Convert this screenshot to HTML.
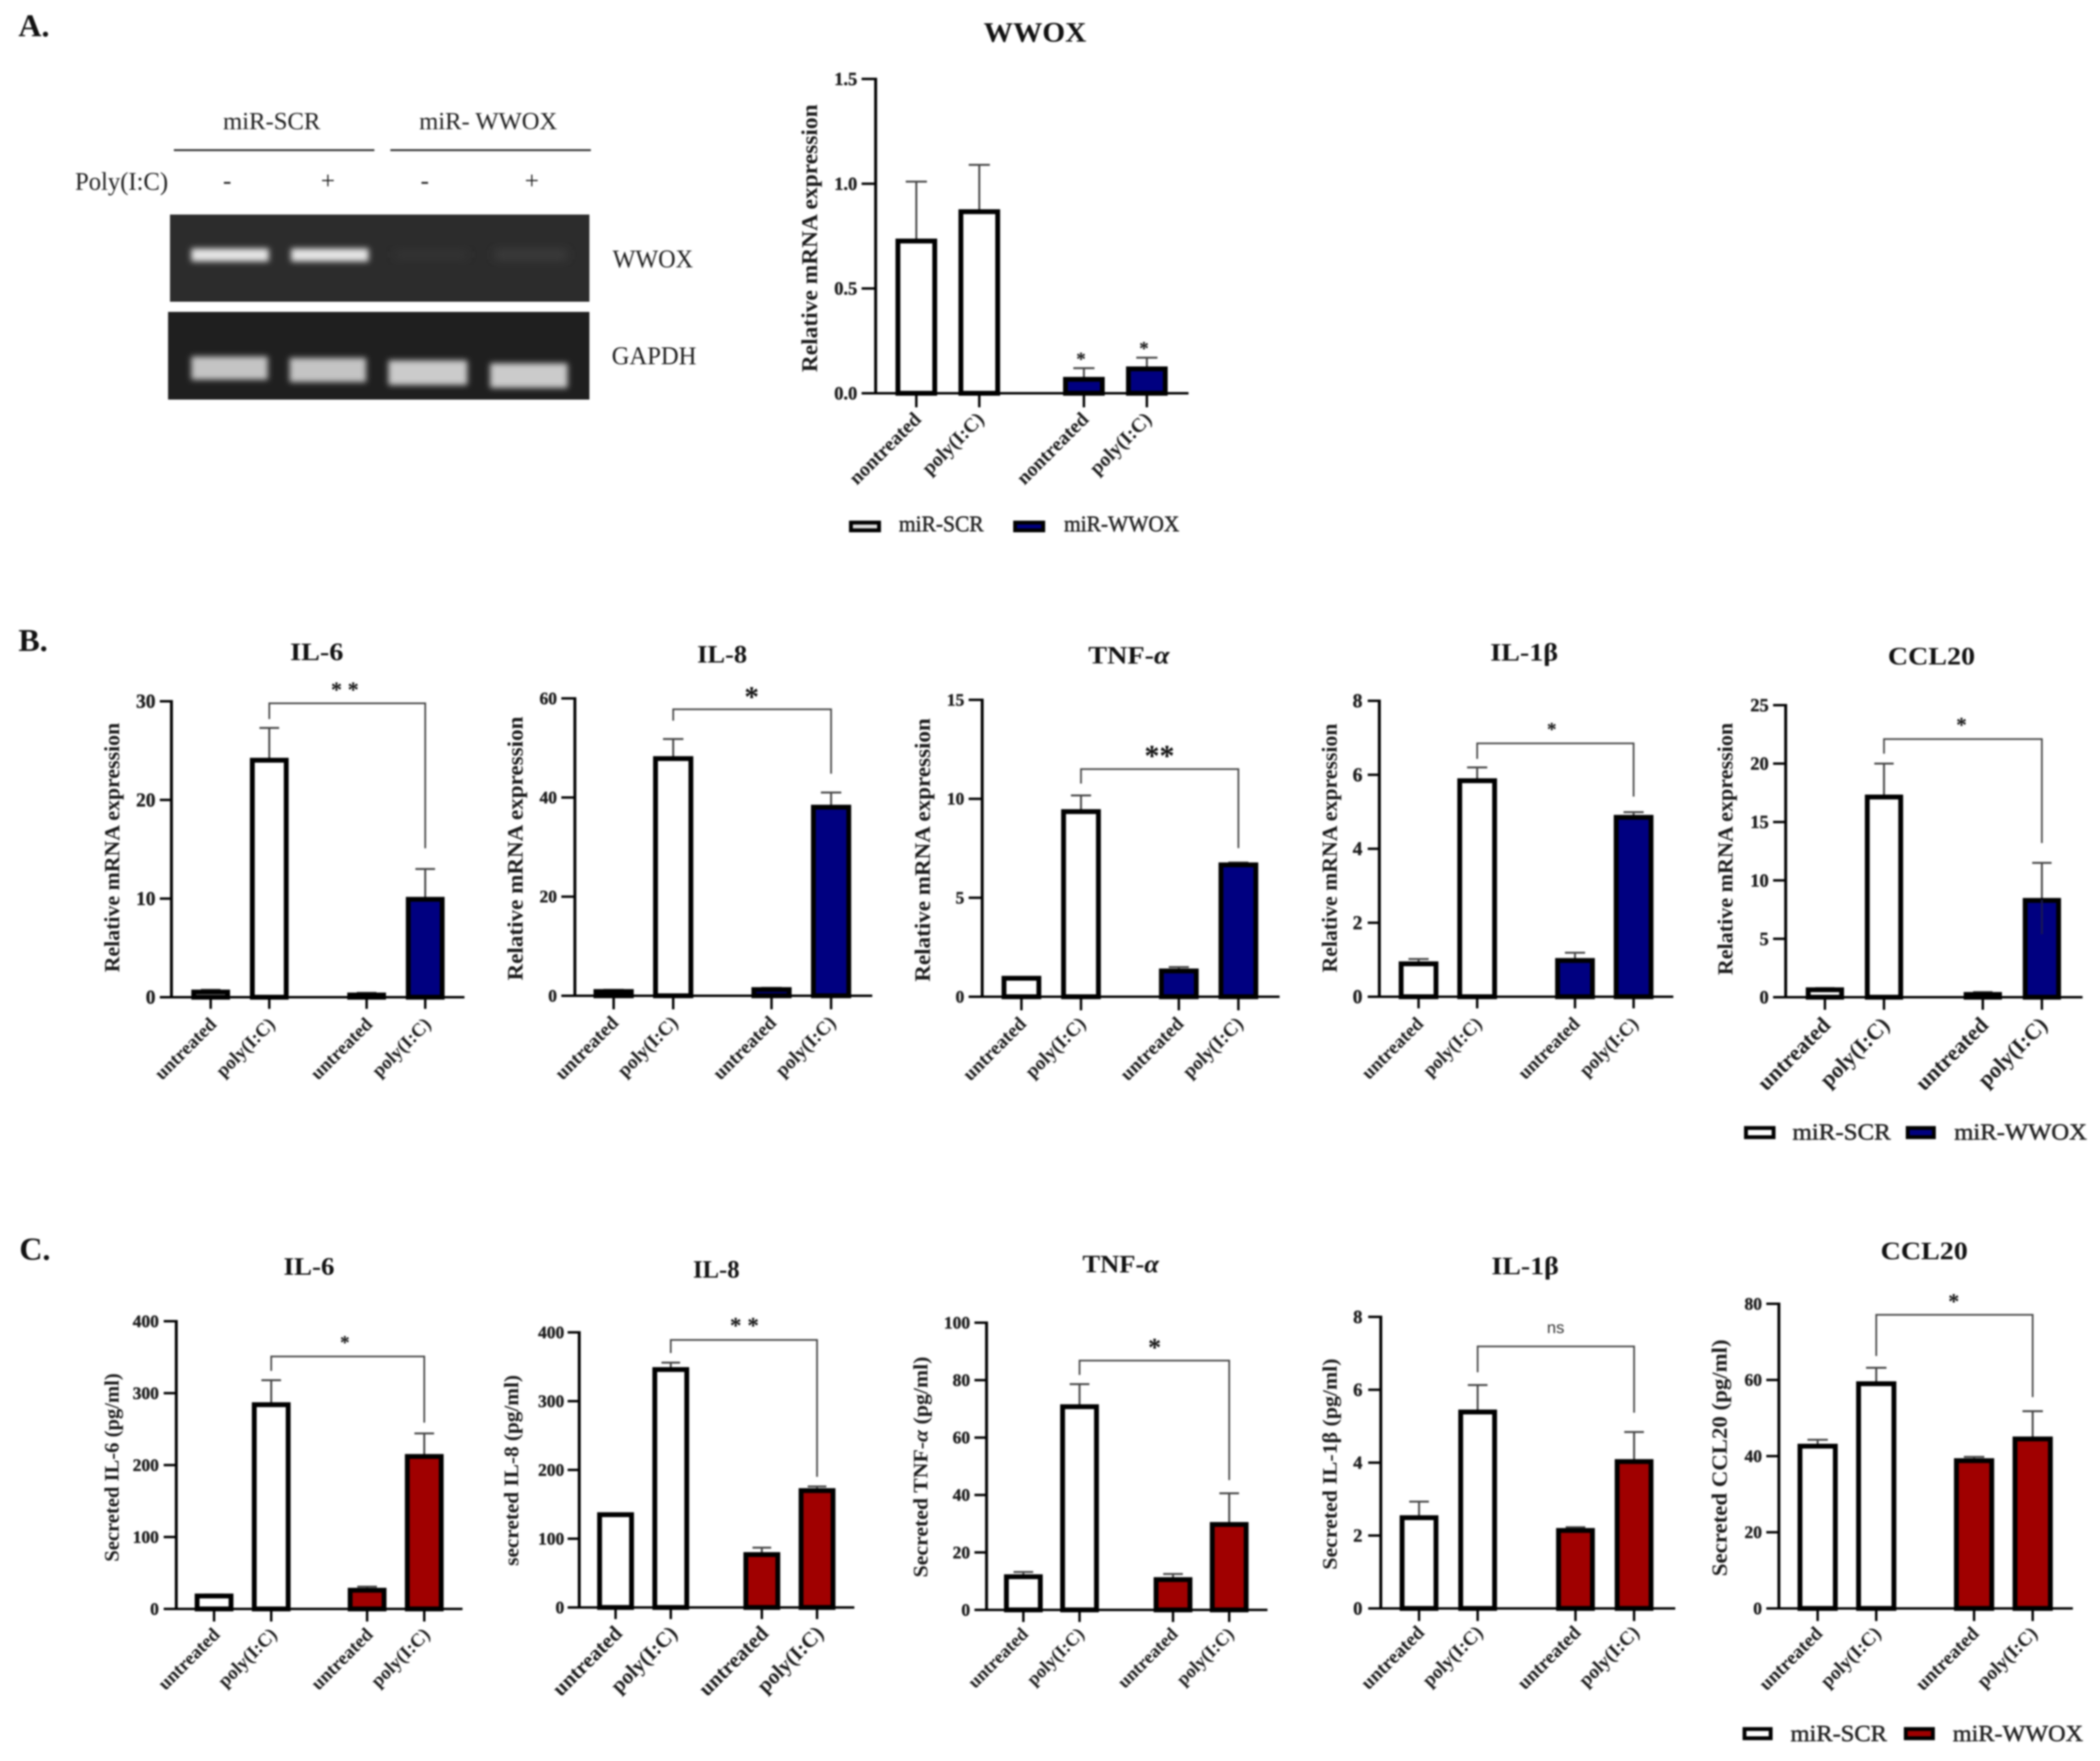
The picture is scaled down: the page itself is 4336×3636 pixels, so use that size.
<!DOCTYPE html>
<html lang="en">
<head>
<meta charset="utf-8">
<title>WWOX knockdown and cytokine expression</title>
<style>
html,body{margin:0;padding:0;background:#fff;}
body{width:4336px;height:3636px;overflow:hidden;}
svg{display:block;filter:blur(1.8px);font-family:"Liberation Serif",serif;}
</style>
</head>
<body>
<svg id="figure" xmlns="http://www.w3.org/2000/svg" width="4336" height="3636" viewBox="0 0 4336 3636">
  <rect width="4336" height="3636" fill="#fff"/>
  <defs>
    <filter id="bandBlur" x="-20%" y="-60%" width="140%" height="220%"><feGaussianBlur stdDeviation="6"/></filter>
    <filter id="faintBlur" x="-20%" y="-80%" width="140%" height="260%"><feGaussianBlur stdDeviation="10"/></filter>
  </defs>

  <text x="38" y="75" font-size="66" font-weight="bold" fill="#111">A.</text>
  <text x="38" y="1344" font-size="66" font-weight="bold" fill="#111">B.</text>
  <text x="40" y="2601" font-size="66" font-weight="bold" fill="#111">C.</text>

  <g fill="#1c1c1c">
    <text x="561" y="267" font-size="51" text-anchor="middle" textLength="201" lengthAdjust="spacingAndGlyphs">miR-SCR</text>
    <text x="1008" y="267" font-size="51" text-anchor="middle" textLength="285" lengthAdjust="spacingAndGlyphs">miR- WWOX</text>
    <rect x="359" y="308" width="414" height="4" fill="#333"/>
    <rect x="806" y="308" width="414" height="4" fill="#333"/>
    <text x="155" y="392" font-size="53" textLength="192" lengthAdjust="spacingAndGlyphs">Poly(I:C)</text>
    <text x="469" y="390" font-size="52" text-anchor="middle">-</text>
    <text x="677" y="390" font-size="52" text-anchor="middle">+</text>
    <text x="877" y="390" font-size="52" text-anchor="middle">-</text>
    <text x="1098" y="390" font-size="52" text-anchor="middle">+</text>

    <rect x="351" y="443" width="866" height="180" fill="#2c2c2c"/>
    <rect x="395" y="513" width="160" height="27" fill="#e4e4e4" filter="url(#bandBlur)"/>
    <rect x="601" y="513" width="160" height="27" fill="#e4e4e4" filter="url(#bandBlur)"/>
    <rect x="815" y="518" width="150" height="16" fill="#363636" filter="url(#faintBlur)"/>
    <rect x="1021" y="516" width="150" height="20" fill="#3c3c3c" filter="url(#faintBlur)"/>

    <rect x="347" y="644" width="870" height="181" fill="#1f1f1f"/>
    <rect x="395" y="736" width="158" height="48" fill="#c4c4c4" filter="url(#bandBlur)"/>
    <rect x="598" y="739" width="158" height="50" fill="#c4c4c4" filter="url(#bandBlur)"/>
    <rect x="802" y="744" width="163" height="51" fill="#cbcbcb" filter="url(#bandBlur)"/>
    <rect x="1012" y="750" width="160" height="51" fill="#cbcbcb" filter="url(#bandBlur)"/>

    <text x="1265" y="552" font-size="53" textLength="166" lengthAdjust="spacingAndGlyphs">WWOX</text>
    <text x="1263" y="752" font-size="53" textLength="175" lengthAdjust="spacingAndGlyphs">GAPDH</text>
  </g>

  <g id="charts"></g>

  <g fill="#222">
    <rect x="1757" y="1079" width="58" height="16" fill="#ddd" stroke="#000" stroke-width="8"/>
    <text x="1856" y="1097" font-size="47" textLength="175" lengthAdjust="spacingAndGlyphs" stroke="#222" stroke-width="1">miR-SCR</text>
    <rect x="2096" y="1079" width="58" height="16" fill="#000080" stroke="#000" stroke-width="8"/>
    <text x="2197" y="1097" font-size="47" textLength="238" lengthAdjust="spacingAndGlyphs" stroke="#222" stroke-width="1">miR-WWOX</text>
  </g>
  <g fill="#222">
    <rect x="3605" y="2329" width="57" height="19" fill="#fff" stroke="#000" stroke-width="8"/>
    <text x="3701" y="2353" font-size="48" textLength="203" lengthAdjust="spacingAndGlyphs" stroke="#222" stroke-width="1">miR-SCR</text>
    <rect x="3939" y="2329" width="54" height="19" fill="#000080" stroke="#000" stroke-width="8"/>
    <text x="4035" y="2353" font-size="48" textLength="274" lengthAdjust="spacingAndGlyphs" stroke="#222" stroke-width="1">miR-WWOX</text>
  </g>
  <g fill="#222">
    <rect x="3602" y="3570" width="54" height="19" fill="#fff" stroke="#000" stroke-width="8"/>
    <text x="3697" y="3595" font-size="48" textLength="199" lengthAdjust="spacingAndGlyphs" stroke="#222" stroke-width="1">miR-SCR</text>
    <rect x="3935" y="3570" width="56" height="19" fill="#a00000" stroke="#000" stroke-width="8"/>
    <text x="4032" y="3595" font-size="48" textLength="269" lengthAdjust="spacingAndGlyphs" stroke="#222" stroke-width="1">miR-WWOX</text>
  </g>
</svg>

<script>
// ---- categories ----
const nontreatedCategories = ['nontreated', 'poly(I:C)', 'nontreated', 'poly(I:C)'];
const untreatedCategories = ['untreated', 'poly(I:C)', 'untreated', 'poly(I:C)'];

// ---- panel A: WWOX ----
const wwoxMeans = [0.73, 0.87, 0.07, 0.12];
const wwoxErrorTops = [1.01, 1.09, 0.12, 0.17];
const wwoxTicks = [0, 0.5, 1, 1.5];
const wwoxTickLabels = ['0.0', '0.5', '1.0', '1.5'];
const wwoxStarredBars = [2, 3];

// ---- panel B: mRNA ----
const il6MrnaMeans = [0.6, 24.1, 0.3, 10];
const il6MrnaErrorTops = [0.75, 27.3, 0.45, 13];
const il6MrnaTicks = [0, 10, 20, 30];
const il6MrnaBracket = [29.8, 28.2, 15.1];

const il8MrnaMeans = [1.0, 48, 1.4, 38.2];
const il8MrnaErrorTops = [1.2, 51.8, 1.6, 41];
const il8MrnaTicks = [0, 20, 40, 60];
const il8MrnaBracket = [57.8, 55.5, 44.8];

const tnfMrnaMeans = [0.97, 9.39, 1.34, 6.7];
const tnfMrnaErrorTops = [1.0, 10.17, 1.5, 6.78];
const tnfMrnaTicks = [0, 5, 10, 15];
const tnfMrnaBracket = [11.5, 10.77, 7.51];

const il1bMrnaMeans = [0.91, 5.86, 1.0, 4.87];
const il1bMrnaErrorTops = [1.02, 6.2, 1.19, 4.99];
const il1bMrnaTicks = [0, 2, 4, 6, 8];
const il1bMrnaBracket = [6.85, 6.43, 5.41];

const ccl20MrnaMeans = [0.7, 17.2, 0.3, 8.35];
const ccl20MrnaErrorTops = [0.78, 20, 0.44, 11.5];
const ccl20MrnaErrorBottoms = [null, null, null, 5.4];
const ccl20MrnaTicks = [0, 5, 10, 15, 20, 25];
const ccl20MrnaBracket = [22.1, 20.85, 13.2];

// ---- panel C: secreted protein ----
const il6SecretedMeans = [19, 285, 27, 213];
const il6SecretedErrorTops = [20, 318, 31, 244];
const il6SecretedTicks = [0, 100, 200, 300, 400];
const il6SecretedBracket = [351, 331, 259];

const il8SecretedMeans = [136, 347, 78, 171];
const il8SecretedErrorTops = [136, 356, 87, 176];
const il8SecretedTicks = [0, 100, 200, 300, 400];
const il8SecretedBracket = [389, 370, 190];

const tnfSecretedMeans = [11.8, 71, 10.8, 30];
const tnfSecretedErrorTops = [13.2, 78.6, 12.5, 40.6];
const tnfSecretedTicks = [0, 20, 40, 60, 80, 100];
const tnfSecretedBracket = [86.8, 81.8, 45.2];

const il1bSecretedMeans = [2.51, 5.41, 2.16, 4.05];
const il1bSecretedErrorTops = [2.93, 6.13, 2.23, 4.84];
const il1bSecretedTicks = [0, 2, 4, 6, 8];
const il1bSecretedBracket = [7.19, 6.48, 5.37];

const ccl20SecretedMeans = [42.8, 59.2, 39, 44.7];
const ccl20SecretedErrorTops = [44.3, 63.2, 39.8, 51.8];
const ccl20SecretedTicks = [0, 20, 40, 60, 80];
const ccl20SecretedBracket = [77.1, 66.3, 55.5];

const NAVY = '#000080';
const RED = '#a00000';
const SVG_NS = 'http://www.w3.org/2000/svg';

function make(tag, attrs, parent, content) {
  const el = document.createElementNS(SVG_NS, tag);
  for (const k in attrs) el.setAttribute(k, attrs[k]);
  if (content !== undefined) el.textContent = content;
  parent.appendChild(el);
  return el;
}

// Adds text with an italic alpha when present.
function fillGreek(el, text) {
  const i = text.indexOf('α');
  if (i < 0) { el.textContent = text; return; }
  el.appendChild(document.createTextNode(text.slice(0, i)));
  const span = document.createElementNS(SVG_NS, 'tspan');
  span.setAttribute('font-style', 'italic');
  span.textContent = 'α';
  el.appendChild(span);
  el.appendChild(document.createTextNode(text.slice(i + 1)));
}

function drawChart(p) {
  const root = document.getElementById('charts');
  const g = make('g', {}, root);
  
  

  const maxV = p.ticks[p.ticks.length - 1];
  const yScale = v => p.y0 - (v / maxV) * (p.y0 - p.top);
  const xScale = i => p.start + i * p.step + (i > 1 ? p.gap : 0);
  const sw = p.barStroke || 10;
  const barWidth = p.barW + 2;

  const title = make('text', {x: p.titleX, y: p.titleBase, 'font-size': p.titleFs || 52, 'font-weight': 'bold', 'text-anchor': 'middle', fill: '#111', textLength: p.titleW, lengthAdjust: 'spacingAndGlyphs'}, g);
  fillGreek(title, p.title);
  
  

  const yLabel = make('text', {x: p.yBase, y: p.yMid, 'font-size': p.yFs, 'font-weight': 'bold', 'text-anchor': 'middle', fill: '#1c1c1c', textLength: p.yLen, lengthAdjust: 'spacingAndGlyphs', transform: 'rotate(-90 ' + p.yBase + ' ' + p.yMid + ')'}, g);
  fillGreek(yLabel, p.yText);
  
  

  p.ticks.forEach((t, i) => {
    const y = yScale(t);
    const tick = make('line', {x1: p.ax - p.tickLen, x2: p.ax, y1: y, y2: y, stroke: '#000', 'stroke-width': 5}, g);
    
    
    const txt = p.tickLabels ? p.tickLabels[i] : String(t);
    const lab = make('text', {x: p.tickRight, y: y + p.tickFs * 0.33, 'font-size': p.tickFs, 'font-weight': 'bold', 'text-anchor': 'end', fill: '#1c1c1c', stroke: '#1c1c1c', 'stroke-width': 0.8}, g, txt);
    
    
  });

  p.means.forEach((m, i) => {
    const cx = xScale(i);
    const fill = i < 2 ? '#fff' : p.color;
    const errLine = make('line', {x1: cx, x2: cx, y1: yScale(m), y2: yScale(p.tops[i]), stroke: '#444', 'stroke-width': 4}, g);
    
    
    const capHalf = p.barW * 0.26;
    const errCap = make('line', {x1: cx - capHalf, x2: cx + capHalf, y1: yScale(p.tops[i]), y2: yScale(p.tops[i]), stroke: '#444', 'stroke-width': 4}, g);
    
    

    const yTop = yScale(m);
    const barTop = yTop + 1.5;
    const barHeight = Math.max(p.y0 - barTop, 0);
    const bar = make('rect', {x: cx - barWidth / 2 + sw / 2, y: barTop, width: barWidth - sw, height: barHeight, fill: fill, stroke: '#000', 'stroke-width': sw}, g);
    
    

    if (p.bottoms && p.bottoms[i] !== null) {
      const lower = make('line', {x1: cx, x2: cx, y1: yTop, y2: yScale(p.bottoms[i]), stroke: '#1a1a50', 'stroke-width': 4}, g);
      
      
    }

    const xTick = make('line', {x1: cx, x2: cx, y1: p.y0, y2: p.y0 + p.tickLen, stroke: '#000', 'stroke-width': 5}, g);
    
    

    const lx = cx + p.labDx;
    const ly = p.y0 + p.labDy;
    const xLab = make('text', {x: lx, y: ly, 'font-size': p.labFs, 'font-weight': 'bold', 'text-anchor': 'end', fill: '#1c1c1c', transform: 'rotate(-45 ' + lx + ' ' + ly + ')'}, g, p.cats[i]);
    
    
  });

  const yAxis = make('line', {x1: p.ax, x2: p.ax, y1: p.top - 2.5, y2: p.y0, stroke: '#000', 'stroke-width': 6}, g);
  
  
  const xAxis = make('line', {x1: p.ax - p.tickLen, x2: p.xEnd, y1: p.y0, y2: p.y0, stroke: '#000', 'stroke-width': 5}, g);
  
  

  if (p.bracket) {
    const bx1 = xScale(1);
    const bx2 = xScale(3);
    const by = yScale(p.bracket[0]);
    const d = 'M' + bx1 + ' ' + yScale(p.bracket[1]) + 'V' + by + 'H' + bx2 + 'V' + yScale(p.bracket[2]);
    const br = make('path', {d: d, fill: 'none', stroke: '#444', 'stroke-width': 3.5}, g);
    
    
    const markY = by - p.markUp;
    const isNs = p.mark === 'ns';
    const attrs = isNs
      ? {x: p.markX, y: markY + p.markFs * 0.28, 'font-size': p.markFs, 'text-anchor': 'middle', fill: '#333', 'font-family': '"Liberation Sans", sans-serif'}
      : {x: p.markX, y: markY + p.markFs * 0.48, 'font-size': p.markFs, 'font-weight': 'bold', 'text-anchor': 'middle', fill: '#111'};
    const mk = make('text', attrs, g, p.mark);
    
    
  }

  if (p.starred) {
    p.starred.forEach(i => {
      const sy = yScale(p.tops[i]) - 25;
      const st = make('text', {x: xScale(i) - 6, y: sy + 40 * 0.48, 'font-size': 40, 'font-weight': 'bold', 'text-anchor': 'middle', fill: '#111'}, g, '*');
      
      
    });
  }
}

const MRNA_LABEL = 'Relative mRNA expression';

drawChart({id: 'wwox', title: 'WWOX', titleX: 2137, titleBase: 86, titleW: 212, titleFs: 58,
  ax: 1808, top: 163, y0: 812, xEnd: 2454, start: 1892, step: 130, gap: 86, barW: 84, tickLen: 29,
  tickRight: 1770, tickFs: 38, yText: MRNA_LABEL, yBase: 1687, yMid: 492, yLen: 553, yFs: 47,
  labFs: 41, labDx: 12, labDy: 56, cats: nontreatedCategories, color: NAVY,
  means: wwoxMeans, tops: wwoxErrorTops, ticks: wwoxTicks, tickLabels: wwoxTickLabels, starred: wwoxStarredBars});

drawChart({id: 'il6-mrna', title: 'IL-6', titleX: 654, titleBase: 1363, titleW: 110,
  ax: 354, top: 1448, y0: 2059, xEnd: 959, start: 435, step: 121, gap: 80, barW: 78, tickLen: 24,
  tickRight: 321, tickFs: 40, yText: MRNA_LABEL, yBase: 246, yMid: 1750, yLen: 515, yFs: 44,
  labFs: 39, labDx: 14, labDy: 58, cats: untreatedCategories, color: NAVY,
  means: il6MrnaMeans, tops: il6MrnaErrorTops, ticks: il6MrnaTicks, bracket: il6MrnaBracket,
  mark: '* *', markX: 712, markUp: 35, markFs: 46});

drawChart({id: 'il8-mrna', title: 'IL-8', titleX: 1491, titleBase: 1368, titleW: 103,
  ax: 1187, top: 1442, y0: 2056, xEnd: 1801, start: 1267, step: 123, gap: 80, barW: 81, tickLen: 28,
  tickRight: 1150, tickFs: 36, yText: MRNA_LABEL, yBase: 1079, yMid: 1752, yLen: 545, yFs: 46,
  labFs: 40, labDx: 12, labDy: 58, cats: untreatedCategories, color: NAVY,
  means: il8MrnaMeans, tops: il8MrnaErrorTops, ticks: il8MrnaTicks, bracket: il8MrnaBracket,
  mark: '*', markX: 1552, markUp: 35, markFs: 60});

drawChart({id: 'tnf-mrna', title: 'TNF-α', titleX: 2331, titleBase: 1370, titleW: 168,
  ax: 2028, top: 1445, y0: 2058, xEnd: 2642, start: 2109, step: 123, gap: 79, barW: 80, tickLen: 28,
  tickRight: 1991, tickFs: 36, yText: MRNA_LABEL, yBase: 1920, yMid: 1755, yLen: 544, yFs: 46,
  labFs: 40, labDx: 12, labDy: 58, cats: untreatedCategories, color: NAVY,
  means: tnfMrnaMeans, tops: tnfMrnaErrorTops, ticks: tnfMrnaTicks, bracket: tnfMrnaBracket,
  mark: '**', markX: 2394, markUp: 37, markFs: 62});

drawChart({id: 'il1b-mrna', title: 'IL-1β', titleX: 3147, titleBase: 1364, titleW: 140,
  ax: 2848, top: 1447, y0: 2058, xEnd: 3455, start: 2929, step: 121, gap: 81, barW: 80, tickLen: 24,
  tickRight: 2813, tickFs: 40, yText: MRNA_LABEL, yBase: 2760, yMid: 1751, yLen: 514, yFs: 44,
  labFs: 39, labDx: 12, labDy: 58, cats: untreatedCategories, color: NAVY,
  means: il1bMrnaMeans, tops: il1bMrnaErrorTops, ticks: il1bMrnaTicks, bracket: il1bMrnaBracket,
  mark: '*', markX: 3204, markUp: 35, markFs: 40});

drawChart({id: 'ccl20-mrna', title: 'CCL20', titleX: 3988, titleBase: 1372, titleW: 180,
  ax: 3687, top: 1456, y0: 2059, xEnd: 4300, start: 3768, step: 122, gap: 82, barW: 77, tickLen: 26,
  tickRight: 3652, tickFs: 38, yText: MRNA_LABEL, yBase: 3577, yMid: 1753, yLen: 521, yFs: 44,
  labFs: 46, labDx: 14, labDy: 60, cats: untreatedCategories, color: NAVY,
  means: ccl20MrnaMeans, tops: ccl20MrnaErrorTops, bottoms: ccl20MrnaErrorBottoms, ticks: ccl20MrnaTicks, bracket: ccl20MrnaBracket,
  mark: '*', markX: 4050, markUp: 36, markFs: 44});

drawChart({id: 'il6-secreted', title: 'IL-6', titleX: 638, titleBase: 2632, titleW: 105,
  ax: 364, top: 2728, y0: 3322, xEnd: 955, start: 442, step: 118, gap: 80, barW: 78, tickLen: 26,
  tickRight: 328, tickFs: 36, yText: 'Secreted IL-6 (pg/ml)', yBase: 245, yMid: 3030, yLen: 389, yFs: 42,
  labFs: 39, labDx: 14, labDy: 55, cats: untreatedCategories, color: RED,
  means: il6SecretedMeans, tops: il6SecretedErrorTops, ticks: il6SecretedTicks, bracket: il6SecretedBracket,
  mark: '*', markX: 712, markUp: 35, markFs: 40});

drawChart({id: 'il8-secreted', title: 'IL-8', titleX: 1479, titleBase: 2638, titleW: 96,
  ax: 1196, top: 2751, y0: 3319, xEnd: 1764, start: 1271, step: 114, gap: 74, barW: 74, tickLen: 24,
  tickRight: 1165, tickFs: 36, yText: 'secreted IL-8 (pg/ml)', yBase: 1070, yMid: 3036, yLen: 394, yFs: 42,
  labFs: 44, labDx: 16, labDy: 56, cats: untreatedCategories, color: RED,
  means: il8SecretedMeans, tops: il8SecretedErrorTops, ticks: il8SecretedTicks, bracket: il8SecretedBracket,
  mark: '* *', markX: 1537, markUp: 37, markFs: 48});

drawChart({id: 'tnf-secreted', title: 'TNF-α', titleX: 2314, titleBase: 2627, titleW: 158,
  ax: 2037, top: 2731, y0: 3324, xEnd: 2617, start: 2113, step: 116, gap: 77, barW: 78, tickLen: 25,
  tickRight: 2003, tickFs: 36, yText: 'Secreted TNF-α (pg/ml)', yBase: 1915, yMid: 3029, yLen: 456, yFs: 42,
  labFs: 38, labDx: 12, labDy: 52, cats: untreatedCategories, color: RED,
  means: tnfSecretedMeans, tops: tnfSecretedErrorTops, ticks: tnfSecretedTicks, bracket: tnfSecretedBracket,
  mark: '*', markX: 2384, markUp: 35, markFs: 54});

drawChart({id: 'il1b-secreted', title: 'IL-1β', titleX: 3149, titleBase: 2631, titleW: 139,
  ax: 2851, top: 2719, y0: 3321, xEnd: 3459, start: 2930, step: 121, gap: 81, barW: 78, tickLen: 26,
  tickRight: 2813, tickFs: 38, yText: 'Secreted IL-1β (pg/ml)', yBase: 2760, yMid: 3023, yLen: 436, yFs: 42,
  labFs: 40, labDx: 13, labDy: 52, cats: untreatedCategories, color: RED,
  means: il1bSecretedMeans, tops: il1bSecretedErrorTops, ticks: il1bSecretedTicks, bracket: il1bSecretedBracket,
  mark: 'ns', markX: 3212, markUp: 37, markFs: 34});

drawChart({id: 'ccl20-secreted', title: 'CCL20', titleX: 3973, titleBase: 2600, titleW: 180,
  ax: 3673, top: 2692, y0: 3321, xEnd: 4280, start: 3753, step: 121, gap: 81, barW: 81, tickLen: 26,
  tickRight: 3638, tickFs: 36, yText: 'Secreted CCL20 (pg/ml)', yBase: 3565, yMid: 3010, yLen: 489, yFs: 44,
  labFs: 40, labDx: 12, labDy: 54, cats: untreatedCategories, color: RED,
  means: ccl20SecretedMeans, tops: ccl20SecretedErrorTops, ticks: ccl20SecretedTicks, bracket: ccl20SecretedBracket,
  mark: '*', markX: 4034, markUp: 35, markFs: 46});
</script>
</body>
</html>
